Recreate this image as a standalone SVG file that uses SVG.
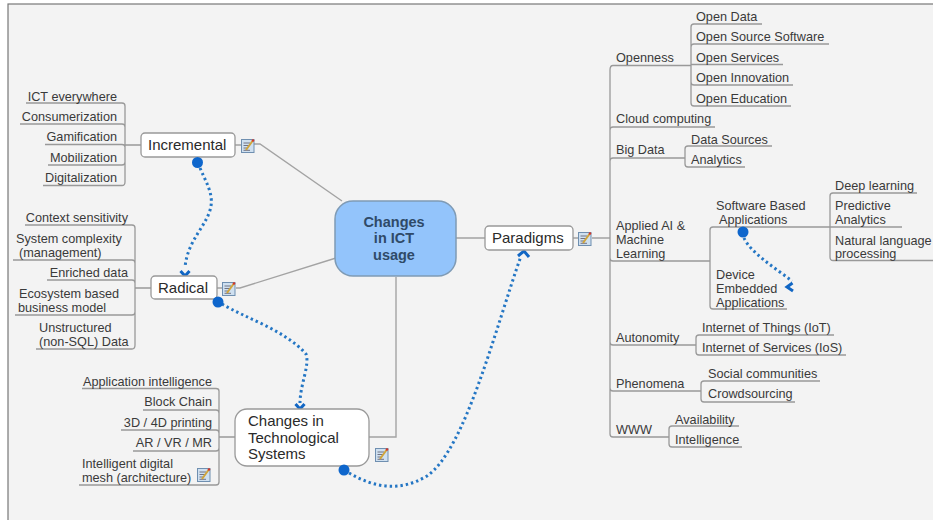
<svg xmlns="http://www.w3.org/2000/svg" xmlns:xlink="http://www.w3.org/1999/xlink" width="933" height="520" viewBox="0 0 933 520">
<style>
text{font-family:"Liberation Sans",Arial,sans-serif;fill:#3a3a3a;font-size:12.7px}
.e{text-anchor:end}
.n{font-size:15px;fill:#2a2a2a}
.c{font-size:14.500px;font-weight:bold;fill:#2f4a68;text-anchor:middle}
.l{fill:none;stroke:#999;stroke-width:1.3}
.t{fill:none;stroke:#a3a3a3;stroke-width:1.4}
.d{fill:none;stroke:#2476c4;stroke-width:3;stroke-dasharray:2.4 3}
.h{fill:none;stroke:#1166c4;stroke-width:3}
.o{fill:#0e66cc}
.b{fill:#fff;stroke:#999;stroke-width:1.3}
</style>
<defs>
<g id="icon">
<rect x="0.5" y="0.5" width="12.5" height="13" fill="#cfe0f0" stroke="#6f8fb0"/>
<path d="M2.500 4H9M2.500 6.500H8M2.500 9H7M2.500 11.300H9" stroke="#667" stroke-width="0.9" fill="none"/>
<path d="M5 11L11.500 2" stroke="#d0a53c" stroke-width="2" fill="none"/>
<circle cx="12" cy="1.500" r="1.300" fill="#d0392b"/>
</g>
</defs>
<rect width="933" height="520" fill="#fff"/>
<rect x="8" y="4" width="930" height="520" fill="#f3f3f3" stroke="#777" stroke-width="1.2"/>
<g id="connectors">
<path class="t" d="M254 144H260L342 201M236 288H240L336 258M369 437H396V277M456 238H485M592 238H610M235 145H241M217 288H222M573 238H578"/>
<path class="l" d="M26 103H122Q125 103 125 106V182Q125 185.500 122 185.500H43M20 124H122Q125 124 125 127M45 144.500H122Q125 144.500 125 147M48 165H122Q125 165 125 162M125 145H141"/>
<path class="l" d="M25 225H132Q135 225 135 228V345Q135 349 132 349H36M13 260H132Q135 260 135 263M47 280H132Q135 280 135 283M15 315H132Q135 315 135 312M135 288H151"/>
<path class="l" d="M82 388.500H216Q219 388.500 219 391V482Q219 485 216 485H79M143 410H216Q219 410 219 413M121 430H216Q219 430 219 433M133 451H216Q219 451 219 448M219 437H235"/>
<path class="l" d="M610 70V434Q610 437 613 437H669M610 70Q610 65.500 613 65.500H691M610 130Q610 127 613 127H715M610 161Q610 158 613 158H685M610 258Q610 261 613 261H710M610 342Q610 345 613 345H696M610 388Q610 391 613 391H701"/>
<path class="l" d="M762 24H694Q691 24 691 27V103Q691 106 694 106H791M829 44H694Q691 44 691 47M783 64.500H691M793 85H694Q691 85 691 82"/>
<path class="l" d="M772 146H688Q685 146 685 149V164Q685 167 688 167H745"/>
<path class="l" d="M902 227H713Q710 227 710 230V306Q710 309 713 309H787"/>
<path class="l" d="M917 193H833Q830 193 830 196V257Q830 260.500 833 260.500H933M830 227V224"/>
<path class="l" d="M834 335H699Q696 335 696 338V352Q696 355 699 355H846"/>
<path class="l" d="M820 381H704Q701 381 701 384V399Q701 402 704 402H795"/>
<path class="l" d="M739 426H672Q669 426 669 429V444Q669 447 672 447H742"/>
<path class="d" d="M200 168C206 182 213 193 211 206C208 225 187 240 185 268"/>
<path class="h" d="M180.500 271L185 276L189.500 271"/>
<path class="d" d="M222 304C245 318 285 330 306 354C310 365 300 385 300 403"/>
<path class="h" d="M295.500 404L300 409L304.500 404"/>
<path class="d" d="M349 473C375 488 400 492 427 476C465 450 495 330 521 256"/>
<path class="h" d="M518 256L524 251L529 257"/>
<path class="d" d="M744 238C750 252 775 268 792 281"/>
<path class="h" d="M792.500 283L787 287L793 291"/>
</g>
<g id="center"><rect x="335" y="201" width="121" height="75" rx="18" fill="#93c4fb" stroke="#7f9bb5" stroke-width="1.500"/><text class="c" x="394" y="227">Changes</text><text class="c" x="394" y="243">in ICT</text><text class="c" x="394" y="260">usage</text></g>
<g id="paradigms"><rect class="b" x="485" y="226" width="88" height="24" rx="4"/><text class="n" x="492" y="243">Paradigms</text><use xlink:href="#icon" x="578" y="232"/></g>
<g id="incremental"><rect class="b" x="141" y="133" width="94" height="24" rx="4"/><text class="n" x="148" y="150">Incremental</text><use xlink:href="#icon" x="241" y="139"/><circle class="o" cx="197.500" cy="162.500" r="5.500"/></g>
<g id="radical"><rect class="b" x="151" y="276" width="66" height="23" rx="4"/><text class="n" x="158" y="293">Radical</text><use xlink:href="#icon" x="222" y="282"/><circle class="o" cx="218" cy="302" r="5.500"/></g>
<g id="systems"><rect class="b" x="235" y="409" width="134" height="57" rx="12"/><text class="n" x="248" y="426">Changes in</text><text class="n" x="248" y="443">Technological</text><text class="n" x="248" y="459">Systems</text><use xlink:href="#icon" x="375" y="448"/><circle class="o" cx="344" cy="470" r="5.500"/></g>
<g id="inc-items"><text class="e" x="117" y="101">ICT everywhere</text><text class="e" x="117" y="121">Consumerization</text><text class="e" x="117" y="141">Gamification</text><text class="e" x="117" y="162">Mobilization</text><text class="e" x="117" y="182">Digitalization</text></g>
<g id="rad-items"><text class="e" x="128" y="222">Context sensitivity</text><text x="16" y="243">System complexity</text><text x="19" y="257">(management)</text><text class="e" x="128" y="277">Enriched data</text><text x="19" y="298">Ecosystem based</text><text x="18" y="312">business model</text><text x="39" y="332">Unstructured</text><text x="39" y="346">(non-SQL) Data</text></g>
<g id="sys-items"><text class="e" x="212" y="386">Application intelligence</text><text class="e" x="212" y="406">Block Chain</text><text class="e" x="212" y="427">3D / 4D printing</text><text class="e" x="212" y="447">AR / VR / MR</text><text x="82" y="468">Intelligent digital</text><text x="82" y="482">mesh (architecture)</text><use xlink:href="#icon" x="197" y="468"/></g>
<g id="openness"><text x="616" y="62">Openness</text><text x="696" y="21">Open Data</text><text x="696" y="41">Open Source Software</text><text x="696" y="62">Open Services</text><text x="696" y="82">Open Innovation</text><text x="696" y="103">Open Education</text></g>
<g id="cloud"><text x="616" y="123">Cloud computing</text></g>
<g id="bigdata"><text x="616" y="154">Big Data</text><text x="691" y="144">Data Sources</text><text x="691" y="164">Analytics</text></g>
<g id="applied"><text x="616" y="230">Applied AI &amp;</text><text x="616" y="244">Machine</text><text x="616" y="258">Learning</text><text x="716" y="210">Software Based</text><text x="719" y="224">Applications</text><text x="716" y="279">Device</text><text x="716" y="293">Embedded</text><text x="716" y="307">Applications</text><text x="835" y="190">Deep learning</text><text x="835" y="210">Predictive</text><text x="835" y="224">Analytics</text><text x="835" y="245">Natural language</text><text x="835" y="258">processing</text><circle class="o" cx="743" cy="232" r="5.500"/></g>
<g id="autonomity"><text x="616" y="342">Autonomity</text><text x="702" y="332">Internet of Things (IoT)</text><text x="702" y="352">Internet of Services (IoS)</text></g>
<g id="phenomena"><text x="616" y="388">Phenomena</text><text x="708" y="378">Social communities</text><text x="708" y="398">Crowdsourcing</text></g>
<g id="www"><text x="616" y="434">WWW</text><text x="675" y="424">Availability</text><text x="675" y="444">Intelligence</text></g>
</svg>
